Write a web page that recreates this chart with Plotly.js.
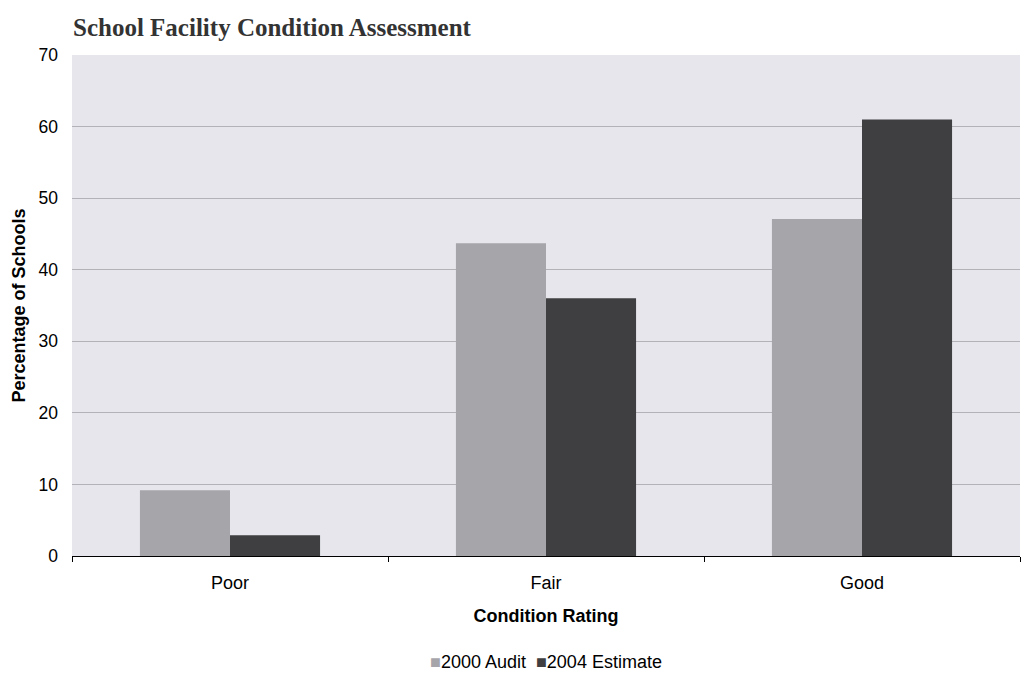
<!DOCTYPE html>
<html>
<head>
<meta charset="utf-8">
<script src="https://cdn.plot.ly/plotly-3.0.1.min.js"></script>
<style>
  html, body { margin: 0; padding: 0; background: #ffffff; }
  #chart { width: 1021px; height: 673px; }
</style>
</head>
<body>
<div id="chart"></div>
<script>
// Condition ratings and share of schools (%) in each
const categories = ["Poor", "Fair", "Good"];
const audit2000 = [9.2, 43.7, 47.1];
const estimate2004 = [2.9, 36.0, 61.0];
const seriesNames = ["2000 Audit", "2004 Estimate"];
const seriesColors = ["#a6a5aa", "#3f3f41"];
const yTicks = [0, 10, 20, 30, 40, 50, 60, 70];

const traces = [
  {
    type: "bar",
    name: seriesNames[0],
    x: categories,
    y: audit2000,
    marker: { color: seriesColors[0] },
    hoverinfo: "x+y+name"
  },
  {
    type: "bar",
    name: seriesNames[1],
    x: categories,
    y: estimate2004,
    marker: { color: seriesColors[1] },
    hoverinfo: "x+y+name"
  }
];

// Compact key: coloured square glyph directly before each series name
const legendText = seriesNames
  .map((n, i) => `<span style="color:${seriesColors[i]}">■</span>${n}`)
  .join("&nbsp; ");

const layout = {
  width: 1021,
  height: 673,
  margin: { l: 72, r: 1, t: 55, b: 117, autoexpand: false },
  paper_bgcolor: "#ffffff",
  plot_bgcolor: "#e6e6ec",
  font: { family: "Liberation Sans, Arial, sans-serif", size: 18, color: "#000000" },
  barmode: "group",
  bargap: 0.43,
  bargroupgap: 0,
  showlegend: false,
  title: {
    text: "School Facility Condition Assessment",
    font: { family: "Liberation Serif, Times New Roman, serif", size: 25, color: "#333333", weight: "bold" },
    x: 73 / 1021, xref: "container", xanchor: "left",
    y: 1 - 27 / 673, yref: "container", yanchor: "middle"
  },
  xaxis: {
    type: "category",
    automargin: false,
    showline: true,
    linecolor: "#000000",
    linewidth: 1,
    ticks: "outside",
    tickson: "boundaries",
    ticklen: 5,
    tickcolor: "#000000",
    showgrid: false,
    ticklabelstandoff: 10,
    tickfont: { size: 18 },
    title: {
      text: "<b>Condition Rating</b>",
      font: { size: 18 },
      standoff: 17
    }
  },
  yaxis: {
    range: [0, 70],
    automargin: false,
    tickvals: yTicks,
    showline: false,
    showgrid: true,
    gridcolor: "#b3b3b7",
    gridwidth: 1,
    zeroline: false,
    ticks: "",
    ticklabelstandoff: 13,
    tickfont: { size: 17.5 },
    title: {
      text: "<b>Percentage of Schools</b>",
      font: { size: 18 },
      standoff: 8
    }
  },
  annotations: [
    {
      text: legendText,
      showarrow: false,
      xref: "paper", x: 0.5, xanchor: "center",
      yref: "paper", y: -(662 - 556) / 501, yanchor: "middle",
      font: { size: 18, color: "#000000" }
    }
  ]
};

Plotly.newPlot("chart", traces, layout, { displayModeBar: false, staticPlot: true });
</script>
</body>
</html>
